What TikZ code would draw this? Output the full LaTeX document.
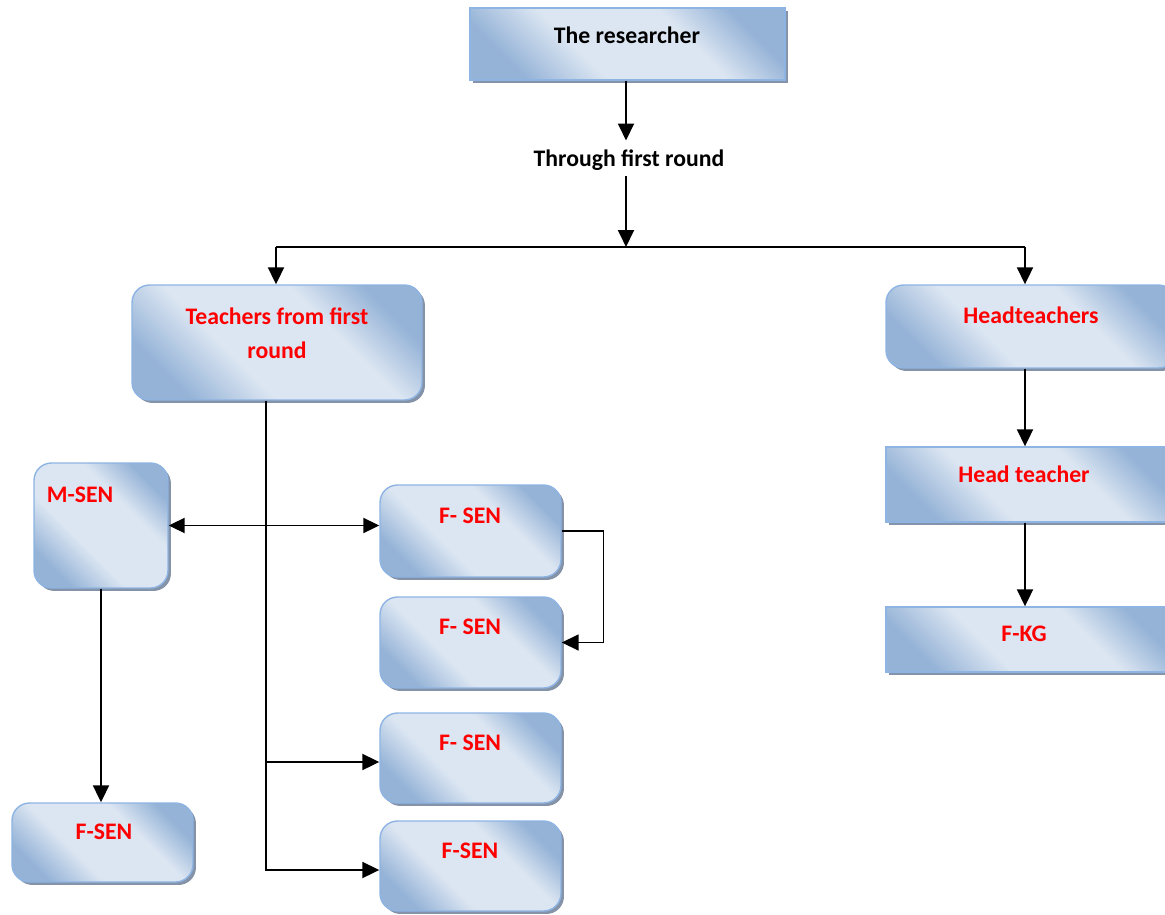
\documentclass[tikz,border=0pt]{standalone}
\usepackage{fontspec}
\setmainfont{Carlito}
\usepackage{xcolor}
\usepackage{tikz}
\usetikzlibrary{arrows.meta, shadows, calc}
\definecolor{boxdark}{HTML}{95B3D7}
\definecolor{boxlight}{HTML}{DCE6F2}
\definecolor{boxline}{HTML}{8EB4E3}
\definecolor{boxshadow}{HTML}{8593A8}
\pgfdeclarehorizontalshading{boxshade}{100bp}{color(0bp)=(boxdark); color(25bp)=(boxdark);
  color(40bp)=(boxlight); color(62bp)=(boxlight); color(75bp)=(boxdark); color(100bp)=(boxdark)}

\begin{document}
\begin{tikzpicture}[x=0.02cm, y=-0.02cm,
    box/.style={draw=boxline, line width=0.8pt, shading=boxshade, shading angle=45,
                drop shadow={shadow xshift=1.7pt, shadow yshift=-1.7pt, fill=boxshadow, opacity=1}},
    rbox/.style={box, rounded corners=0.35cm},
    lbl/.style={font=\bfseries\fontsize{13.5}{19.3}\selectfont, text=red, align=center, inner sep=0pt},
    arrow/.style={-{Triangle[length=0.34cm, width=0.32cm]}, line width=1.1pt},
    darrow/.style={{Triangle[length=0.32cm, width=0.3cm]}-{Triangle[length=0.32cm, width=0.3cm]}, line width=1.1pt}
  ]
    \useasboundingbox (0,0) rectangle (1165,915);
    \clip (0,0) rectangle (1165,915);

    % top
    \node[box, minimum width=6.3cm, minimum height=1.44cm] (res) at (627.5,44) {};
    \node[lbl, text=black] (restxt) at (627,35) {The researcher};
    \node[lbl, text=black] (thru) at (629,160) {Through first round};

    % second level
    \node[rbox, minimum width=5.8cm, minimum height=2.3cm] (teach) at (277,342.5) {};
    \node[lbl] (teachtxt) at (277,333) {Teachers from first\\round};
    \node[rbox, minimum width=5.8cm, minimum height=1.66cm] (headts) at (1031,326.5) {};
    \node[lbl] (headtstxt) at (1031,315) {Headteachers};

    % right branch
    \node[box, minimum width=5.8cm, minimum height=1.5cm] (headt) at (1031,484.5) {};
    \node[lbl] (headttxt) at (1024,474) {Head teacher};
    \node[box, minimum width=5.8cm, minimum height=1.3cm] (fkg) at (1031,639.5) {};
    \node[lbl] (fkgtxt) at (1024,634) {F-KG};

    % left branch
    \node[rbox, minimum width=2.68cm, minimum height=2.5cm] (msen) at (101,525.5) {};
    \node[lbl] (msentxt) at (80,495) {M-SEN};
    \node[rbox, minimum width=3.62cm, minimum height=1.58cm] (fsl) at (102.5,842.5) {};
    \node[lbl] (fsltxt) at (104,832) {F-SEN};

    \node[rbox, minimum width=3.62cm, minimum height=1.84cm] (fs1) at (470.5,531) {};
    \node[lbl] (fs1txt) at (470,516) {F- SEN};
    \node[rbox, minimum width=3.62cm, minimum height=1.82cm] (fs2) at (470.5,642.5) {};
    \node[lbl] (fs2txt) at (470,627) {F- SEN};
    \node[rbox, minimum width=3.62cm, minimum height=1.8cm] (fs3) at (470.5,758) {};
    \node[lbl] (fs3txt) at (470,743) {F- SEN};
    \node[rbox, minimum width=3.62cm, minimum height=1.8cm] (fs4) at (470.5,866) {};
    \node[lbl] (fs4txt) at (470,851) {F-SEN};

    % connectors
    \coordinate (split) at (626,247);
    \coordinate (lt) at (276,247);
    \coordinate (rt) at (1025,247);
    \coordinate (mid) at (266,762);
    \coordinate (trunk) at (266,870);

    \draw[arrow, shorten >=5pt] (split |- res.south) -- (split |- thru.north);
    \draw[arrow, shorten <=3pt] (split |- thru.south) -- (split);
    \draw[line width=1pt] (lt) -- (rt);
    \draw[arrow] (lt) -- (lt |- teach.north);
    \draw[arrow] (rt) -- (rt |- headts.north);
    \draw[arrow] (rt |- headts.south) -- (rt |- headt.north);
    \draw[arrow] (rt |- headt.south) -- (rt |- fkg.north);

    \draw[arrow] (trunk |- teach.south) -- (trunk) -- (trunk -| fs4.west);
    \draw[arrow] (mid) -- (mid -| fs3.west);
    \draw[darrow] (msen.east) -- (msen.east -| fs1.west);
    \draw[arrow] (msen.south) -- (msen.south |- fsl.north);
    \draw[arrow, line width=0.9pt] (fs1.east) -- ++(42,0) |- (fs2.east);
  \end{tikzpicture}
\end{document}
